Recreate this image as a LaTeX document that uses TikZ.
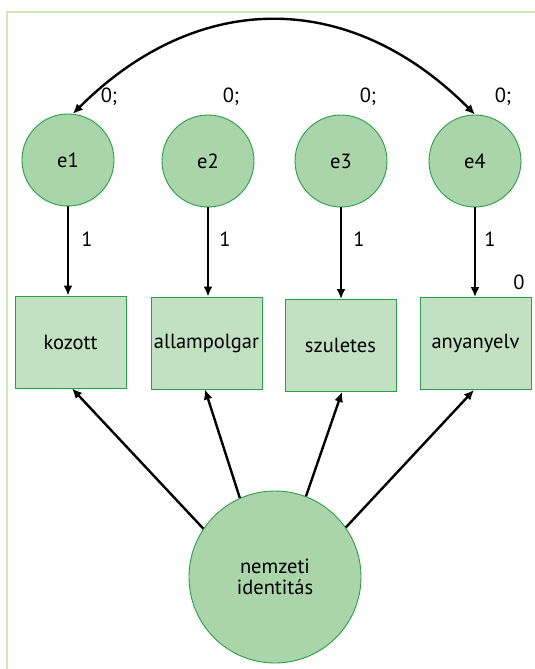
\documentclass[tikz,border=0pt]{standalone}
\usepackage{fontspec}
\setmainfont{PT Sans}
\usetikzlibrary{arrows.meta}
\definecolor{cfill}{RGB}{170,212,170}
\definecolor{bfill}{RGB}{194,224,194}
\definecolor{gstroke}{RGB}{42,158,72}
\definecolor{frame}{RGB}{214,230,186}
\begin{document}
\begin{tikzpicture}[x=1pt,y=-1pt,
  every node/.style={font=\fontsize{20.5}{23}\selectfont, text=black},
  err/.style={circle, draw=gstroke, fill=cfill, line width=0.9pt, minimum size=92pt, inner sep=0pt},
  obs/.style={rectangle, draw=gstroke, fill=bfill, line width=0.9pt, minimum width=111pt, minimum height=92pt, inner sep=0pt},
  lat/.style={circle, draw=gstroke, fill=cfill, line width=0.9pt, minimum size=172pt, inner sep=0pt, align=center},
  arr/.style={line width=2.4pt, -{Latex[length=10pt,width=9pt]}},
  lbl/.style={inner sep=0pt}
]
\useasboundingbox (0,0) rectangle (535,669);
\draw[frame, line width=2pt] (6.5,669) -- (6.5,12) -- (535,12);

\node[err] (e1) at (68,160) {e1};
\node[err] (e2) at (208,161) {e2};
\node[err] (e3) at (341,161) {e3};
\node[err] (e4) at (475,161) {e4};

\node[obs] (o1) at (70.5,342) {kozott};
\node[obs] (o2) at (206.5,343) {allampolgar};
\node[obs] (o3) at (340.5,345.5) {szuletes};
\node[obs] (o4) at (475.5,343.5) {anyanyelv};

\node[lat] (f) at (275,577) {nemzeti\\[-2pt]identitás};

\draw[arr] (e1.south) -- (e1.south |- o1.north);
\draw[arr] (e2.south) -- (e2.south |- o2.north);
\draw[arr] (e3.south) -- (e3.south |- o3.north);
\draw[arr] (e4.south) -- (e4.south |- o4.north);

\draw[arr] (f.146) -- (o1.south -| 72,0);
\draw[arr] (f.114) -- (o2.south -| 205,0);
\draw[arr] (f.69) -- (o3.south -| 342,0);
\draw[arr] (f.35) -- (o4.south -| 474,0);

\draw[line width=2.4pt, {Latex[length=10pt,width=9pt]}-{Latex[length=10pt,width=9pt]}]
  (e1.84) .. controls (198,-11) and (350,-11) .. (e4.north);

\node[lbl] (l1) at (87,239) {1};
\node[lbl] (l2) at (225,239) {1};
\node[lbl] (l3) at (359,239) {1};
\node[lbl] (l4) at (490,239) {1};

\node[lbl] (v1) at (109,97) {0;};
\node[lbl] (v2) at (231,97) {0;};
\node[lbl] (v3) at (368,97) {0;};
\node[lbl] (v4) at (503,97) {0;};
\node[lbl] (v5) at (519,282) {0};
\end{tikzpicture}
\end{document}
